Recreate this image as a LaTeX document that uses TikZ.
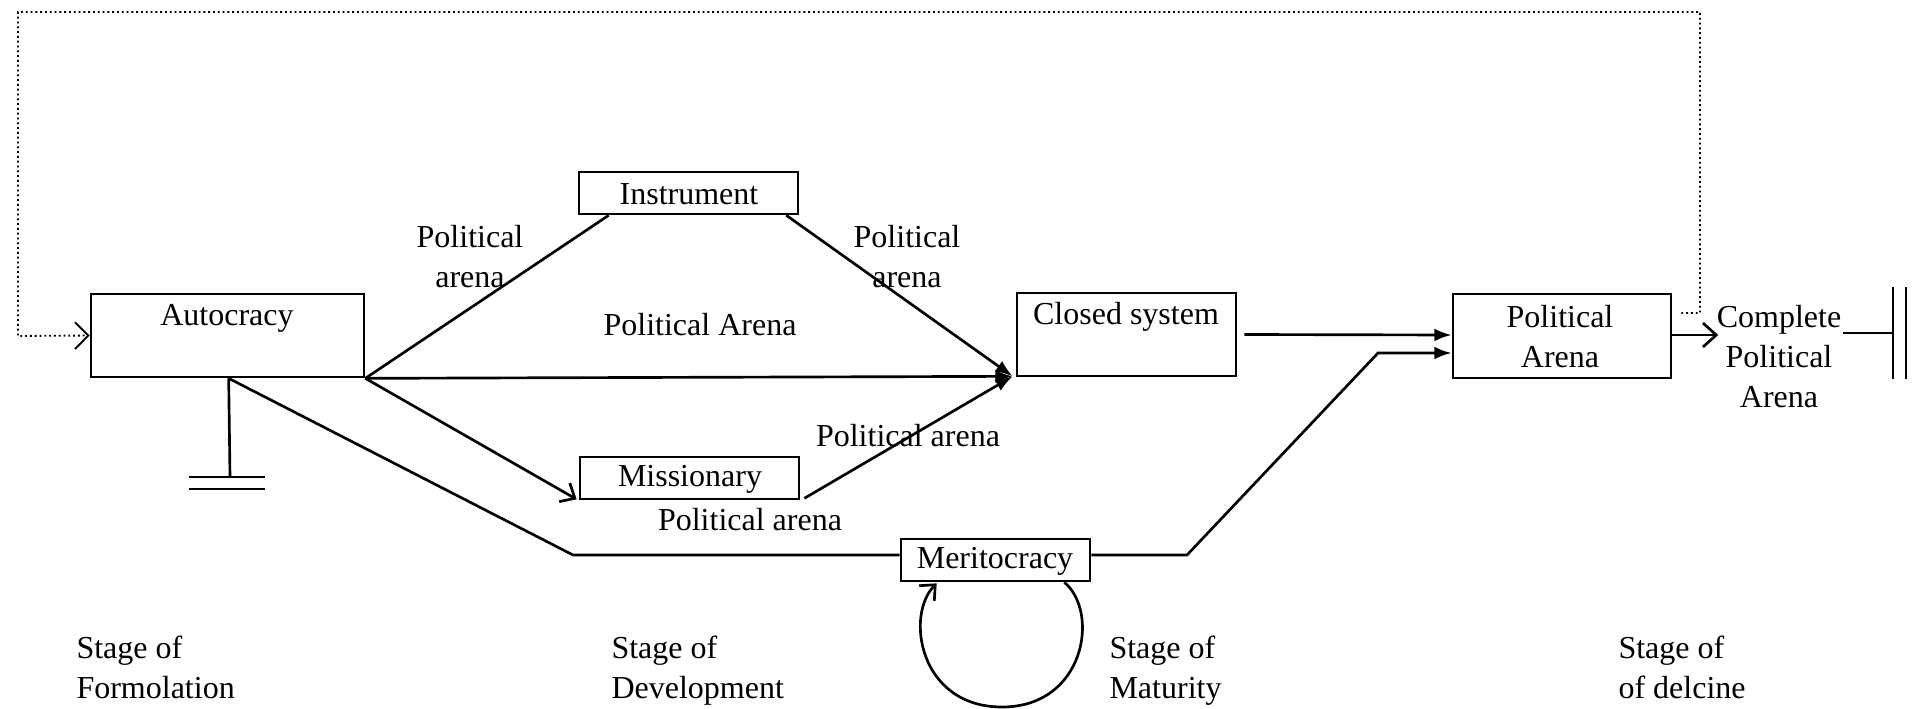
\documentclass[tikz,border=0pt]{standalone}
\usepackage{fontspec}
\setmainfont{Liberation Serif}
\usetikzlibrary{arrows.meta,fit,calc}
\begin{document}
\begin{tikzpicture}[x=0.375pt,y=-0.375pt,
  box/.style={draw, line width=1pt, inner sep=0pt},
  lbl/.style={font=\fontsize{12}{15}\selectfont, inner sep=0pt, align=center},
  stagelbl/.style={font=\fontsize{12}{15}\selectfont, inner sep=0pt, align=left, anchor=base west},
  conn/.style={line width=1pt},
  farrow/.style={conn, -{Latex[length=6.5pt,width=4.8pt]}},
  oarrow/.style={conn, -{Straight Barb[length=4.5pt,width=8pt]}},
  fb/.style={line width=0.7pt, dash pattern=on 0.7pt off 1.1pt},
]
\useasboundingbox (0,0) rectangle (1915,709);

% boxes
\node[box, fit={(91,294) (364,377)}] (auto) {};
\node[lbl] (autot) at (227,318) {Autocracy};
\node[box, fit={(579,172) (798,214)}] (instr) {};
\node[lbl] (instrt) at (689,194) {Instrument};
\node[box, fit={(580,457) (799,499)}] (miss) {};
\node[lbl] (misst) at (690,479) {Missionary};
\node[box, fit={(1017,293) (1236,376)}] (closed) {};
\node[lbl] (closedt) at (1126,317) {Closed system};
\node[box, fit={(1453,294) (1671,378)}] (pa) {};
\node[lbl] (pat) at (1560,337) {Political\\Arena};
\node[box, fit={(901,539) (1090,581)}] (merit) {};
\node[lbl] (meritt) at (995,561) {Meritocracy};
\node[lbl] (comp) at (1779,357) {Complete\\Political\\Arena};

% edge labels
\node[lbl] (l1) at (470,257) {Political\\arena};
\node[lbl] (l2) at (907,257) {Political\\arena};
\node[lbl] (l3) at (700,325) {Political Arena};
\node[lbl] (l4) at (908,436) {Political arena};
\node[lbl] (l5) at (750,520) {Political arena};

% stage labels
\node[stagelbl] (s1) at (76,698) {Stage of\\Formolation};
\node[stagelbl] (s2) at (611,698) {Stage of\\Development};
\node[stagelbl] (s3) at (1109,698) {Stage of\\Maturity};
\node[stagelbl] (s4) at (1618,698) {Stage of\\of delcine};

% coordinates
\coordinate (cv) at ($(closed.south west)+(-3,-1)$);
\coordinate (gnd) at ($(auto.south west)+(139,0)$);
\coordinate (fbs) at ($(pa.east)+(9,-23)$);

% connectors
\draw[conn] (auto.south east) -- ($(instr.south west)+(31,0)$);
\draw[farrow] ($(instr.south east)+(-13,0)$) -- (cv);
\draw[farrow] (auto.south east) -- (cv);
\draw[oarrow] (auto.south east) -- ($(miss.south west)+(-2,-1)$);
\draw[farrow] ($(miss.south east)+(4,-2)$) -- (cv);
\draw[conn] (gnd) -- (573,555) -- ($(merit.west)+(0,-5)$);
\draw[conn] (gnd) -- (230,477);
\draw[conn] (189,477) -- (265,477);
\draw[conn] (189,489) -- (265,489);
\draw[farrow] ($(closed.east)+(7,0)$) -- ($(pa.west)+(0,-1)$);
\draw[farrow] ($(merit.east)+(0,-5)$) -- (1187,555) -- (1378,353) -- ($(pa.west)+(0,17)$);
\draw[conn, -{Straight Barb[length=5pt,width=9pt]}] ($(pa.east)+(0,-1)$) -- ($(comp.west)+(2,-22)$);
\draw[conn] ($(comp.east)+(1,-24)$) -- (1893,333);
\draw[conn] (1893,287) -- (1893,379);
\draw[conn] (1906,287) -- (1906,379);
% self loop
\draw[oarrow] ($(merit.south east)+(-27,0)$) .. controls (1100,612) and (1085,707) .. (1002,707)
   .. controls (919,707) and (905,615) .. ($(merit.south west)+(37,1)$);
% dotted feedback
\draw[fb, -{Straight Barb[length=5pt,width=10pt]}] (fbs) -- (1700,313) -- (1700,12) -- (18,12) -- (18,336) -- (auto.west);
\end{tikzpicture}
\end{document}
